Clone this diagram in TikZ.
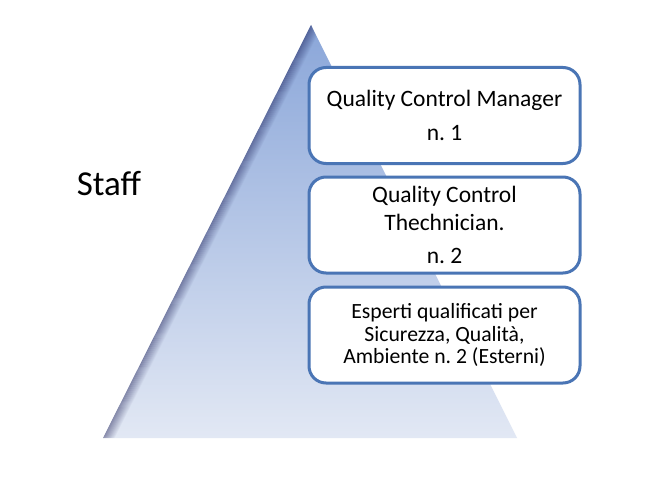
\documentclass[tikz,border=0pt]{standalone}
\usepackage{fontspec}
\setmainfont{Carlito}
\frenchspacing
\definecolor{boxblue}{HTML}{4A75B5}
\definecolor{triTop}{HTML}{8AA6D9}
\definecolor{triBot}{HTML}{E2E8F4}
\begin{document}
\begin{tikzpicture}[x=1pt,y=-1pt,
  box/.style={draw=boxblue, line width=3pt, rounded corners=17pt, fill=white,
    minimum width=271pt, minimum height=96pt, align=center, inner sep=0pt,
    font=\fontsize{23.5}{28}\selectfont},
  smallbox/.style={box, font=\fontsize{21.7}{22.7}\selectfont}]
\useasboundingbox (0,0) rectangle (664,495);
\fill[white] (0,0) rectangle (664,495);
% pyramid
\shade[top color=triTop, bottom color=triBot] (311,25) -- (517,438) -- (103,438) -- cycle;
\begin{scope}
  \clip (311,25) -- (517,438) -- (103,438) -- cycle;
  \foreach \k in {0,...,11} {
    \pgfmathsetmacro{\op}{0.32*(1-\k/12)}
    \draw[black!70!blue!80!black, opacity=\op, line width=1.1pt] (311+\k,25) -- (103+\k,438);
  }
\end{scope}
% label
\node[font=\fontsize{35}{40}\selectfont, anchor=base, inner sep=0pt] (staff) at (109,195) {Staff};
% boxes
\node[box] (b1) at (444.5,115.5) {Quality Control Manager\\[6pt]n. 1};
\node[box] (b2) at (444.5,225) {Quality Control\\Thechnician.\\[5pt]n. 2};
\node[smallbox] (b3) at (444.5,335) {Esperti qualificati per\\Sicurezza, Qualità,\\Ambiente n. 2 (Esterni)};
\end{tikzpicture}
\end{document}
